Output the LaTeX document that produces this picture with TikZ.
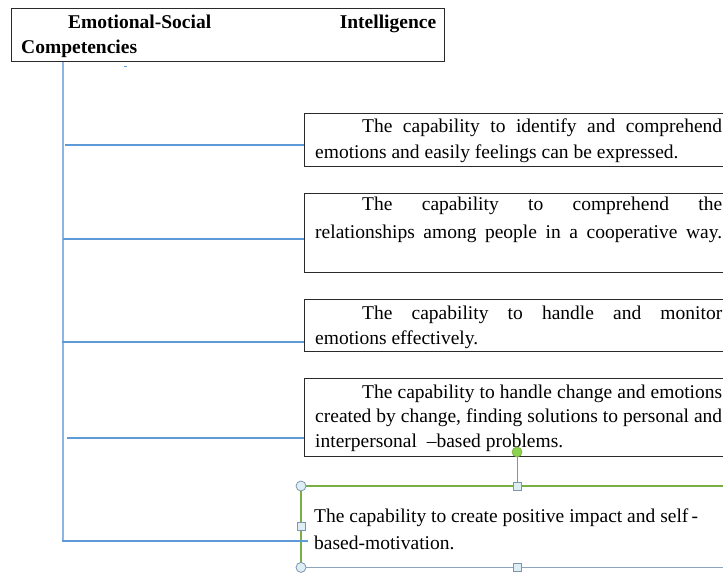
\documentclass[tikz,border=0pt]{standalone}
\usepackage{fontspec}
\setmainfont{Liberation Serif}
\definecolor{boxline}{HTML}{2A2A2A}
\definecolor{linkblue}{HTML}{5E9AD8}
\definecolor{trunkblue}{HTML}{8DB4E2}
\definecolor{selgreen}{HTML}{79AE45}
\definecolor{selgray}{HTML}{8EA4BC}
\definecolor{handlefill}{HTML}{DDEFF4}
\definecolor{handleline}{HTML}{7D96AE}
\definecolor{rotfill}{HTML}{8CD24C}
% the font's own stretchable word spaces instead of the fixed ones of align=left
\newcommand\plainspaces{\spaceskip=0pt\xspaceskip=0pt\relax}
% a line spread to the full text width
\newcommand\fillline[1]{\makebox[\hsize][s]{#1}}
% fixed first-line height, so the first baseline sits 15pt below the node top
\newcommand\topstrut{\rule{0pt}{15pt}}
\tikzset{
  panel/.style={draw=boxline, line width=1.4pt, inner sep=0pt, anchor=north west},
  txt/.style={inner sep=0pt, anchor=north west, align=left, text width=407pt,
    font=\fontsize{19.5}{#1}\selectfont\plainspaces},
  link/.style={draw=linkblue, line width=1.1pt},
  trunk/.style={draw=trunkblue, line width=1.5pt},
  hcirc/.style={circle, draw=handleline, fill=handlefill, line width=0.8pt,
    minimum size=10pt, inner sep=0pt},
  hsq/.style={rectangle, draw=handleline, fill=handlefill, line width=0.8pt,
    minimum size=8pt, inner sep=0pt},
  hrot/.style={circle, draw=selgreen, fill=rotfill, line width=0.6pt,
    minimum size=10pt, inner sep=0pt},
}
\begin{document}
\begin{tikzpicture}[x=1pt,y=-1pt]
\useasboundingbox (0,0) rectangle (723,575);

% heading
\node[panel, minimum width=433pt, minimum height=53pt] (title) at (11,8) {};
\node[txt=25, text width=415pt] (ttitle) at (21,13)
  {\plainspaces\bfseries\fillline{\topstrut\hspace{47pt}Emotional-Social Intelligence}\\Competencies};

% competency boxes (they run past the right edge)
\node[panel, minimum width=426pt, minimum height=53pt] (b1) at (304,113) {};
\node[txt=26] (t1) at (315,117)
  {\plainspaces\fillline{\topstrut\hspace{47pt}The capability to identify and comprehend}\\
   emotions and easily feelings can be expressed.};

\node[panel, minimum width=426pt, minimum height=79pt] (b2) at (304,193) {};
\node[txt=28] (t2) at (315,195)
  {\plainspaces\fillline{\topstrut\hspace{47pt}The capability to comprehend the}\\
   \fillline{relationships among people in a cooperative way.}};

\node[panel, minimum width=426pt, minimum height=52pt] (b3) at (304,299) {};
\node[txt=25] (t3) at (315,304)
  {\plainspaces\fillline{\topstrut\hspace{47pt}The capability to handle and monitor}\\
   emotions effectively.};

\node[panel, minimum width=426pt, minimum height=78pt] (b4) at (304,378) {};
\node[txt=24.5] (t4) at (315,383)
  {\plainspaces\fillline{\topstrut\hspace{47pt}The capability to handle change and emotions}\\
   \fillline{created by change, finding solutions to personal and}\\
   interpersonal\ \ --based problems.};

% selected text box
\node[inner sep=0pt, anchor=north west, minimum width=429pt, minimum height=81pt] (b5) at (301,486) {};
\draw[selgray, line width=1.2pt] (b5.south west) -- (b5.south east);
\draw[selgreen, line width=1.2pt] (b5.south west) -- (b5.north west) -- (b5.north east);
\node[txt=27] (t5) at (314,507)
  {\plainspaces\topstrut The capability to create positive impact and self\,-\\based-motivation.};

% trunk and branches
\coordinate (j1) at (65,145);
\coordinate (j2) at (63,239);
\coordinate (j3) at (62,342);
\coordinate (j4) at (67,438);
\coordinate (j5) at (62,541);
\coordinate (e5) at (308,541);
\draw[trunk] (title.south -| 63,0) -- (63,541);
\draw[link] (j1) -- (j1 -| b1.west);
\draw[link] (j2) -- (j2 -| b2.west);
\draw[link] (j3) -- (j3 -| b3.west);
\draw[link] (j4) -- (j4 -| b4.west);
\draw[link] (j5) -- (e5);
\coordinate (tick) at (124,66);
\draw[link, line width=0.8pt] (tick) -- ++(3,0);

% selection handles
\node[hrot] (rot) at (517,452) {};
\node[hsq] (hn) at (517,486) {};
\draw[handleline, line width=1pt] (rot) -- (hn);
\node[hcirc] (hnw) at (b5.north west) {};
\node[hcirc] (hsw) at (b5.south west) {};
\node[hsq] (hw) at (b5.west) {};
\node[hsq] (hs) at (517,567) {};
\end{tikzpicture}
\end{document}
